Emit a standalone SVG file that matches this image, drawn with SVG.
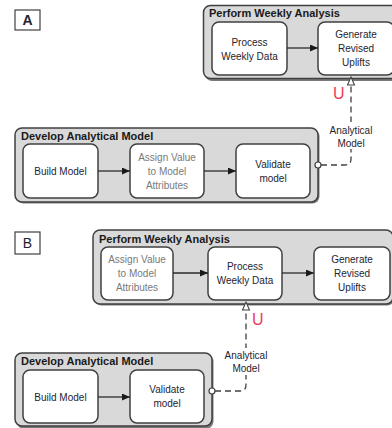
<svg xmlns="http://www.w3.org/2000/svg" width="392" height="428" viewBox="0 0 392 428">
  <defs>
    <style>
      text { font-family: "Liberation Sans", Arial, sans-serif; fill: #1e2430; }
      .tag { fill: #ffffff; stroke: #404040; stroke-width: 1.2; }
      .tagtxt { font-size: 14px; text-anchor: middle; }
      .shadow { fill: #7a7a7a; }
      .pool { fill: #d9d9d9; stroke: #404040; stroke-width: 1.5; }
      .title { font-size: 11px; font-weight: bold; fill: #1a1a1a; }
      .task { fill: #ffffff; stroke: #404040; stroke-width: 1.5; }
      .lbl { font-size: 10px; text-anchor: middle; }
      .dim { fill: #7a7a7a; }
      .flow { fill: none; stroke: #2a2a2a; stroke-width: 1.3; marker-end: url(#solid); }
      .data { fill: none; stroke: #404040; stroke-width: 1.3; stroke-dasharray: 6 4; marker-end: url(#open); }
      .port { fill: #ffffff; stroke: #404040; stroke-width: 1.2; }
      .mark { font-size: 16px; fill: #f03a5a; }
      .bg { fill: #ffffff; }
    </style>
    <marker id="solid" markerUnits="userSpaceOnUse" markerWidth="9" markerHeight="8" refX="8" refY="3.5" orient="auto">
      <path d="M0,0 L8,3.5 L0,7 z" fill="#1a1a1a" stroke="none"/>
    </marker>
    <marker id="open" markerUnits="userSpaceOnUse" markerWidth="12" markerHeight="10" refX="9" refY="4" orient="auto">
      <path d="M1,0.5 L9,4 L1,7.5 z" fill="#ffffff" stroke="#404040" stroke-width="1.1" stroke-dasharray="none"/>
    </marker>
  </defs>

  <!-- Variant A -->
  <g id="tag-a">
    <rect class="tag" x="15" y="10" width="25" height="20"/>
    <text class="tagtxt" x="27.5" y="25" font-weight="bold">A</text>
  </g>

  <g id="a-weekly">
    <rect class="shadow" x="205" y="7" width="200" height="74" rx="7"/>
    <rect class="pool" x="203.5" y="5.5" width="200" height="73" rx="7"/>
    <text class="title" x="209" y="17">Perform Weekly Analysis</text>
  </g>
  <g id="a-process">
    <rect class="task" x="212" y="22" width="75" height="53" rx="7"/>
    <text class="lbl" x="249.5" y="45.5">Process</text>
    <text class="lbl" x="249.5" y="59.5">Weekly Data</text>
  </g>
  <g id="a-generate">
    <rect class="task" x="318" y="22" width="76" height="53" rx="7"/>
    <text class="lbl" x="356" y="38">Generate</text>
    <text class="lbl" x="356" y="52">Revised</text>
    <text class="lbl" x="356" y="66">Uplifts</text>
  </g>

  <g id="a-develop">
    <rect class="shadow" x="16.5" y="129.5" width="303" height="74" rx="7"/>
    <rect class="pool" x="15" y="128" width="303" height="74" rx="7"/>
    <text class="title" x="21" y="140">Develop Analytical Model</text>
  </g>
  <g id="a-build">
    <rect class="task" x="23" y="144" width="75" height="54" rx="7"/>
    <text class="lbl" x="60.5" y="174.5">Build Model</text>
  </g>
  <g id="a-assign">
    <rect class="task" x="130" y="144" width="74" height="54" rx="7"/>
    <text class="lbl dim" x="167" y="161">Assign Value</text>
    <text class="lbl dim" x="167" y="175">to Model</text>
    <text class="lbl dim" x="167" y="188.5">Attributes</text>
  </g>
  <g id="a-validate">
    <rect class="task" x="236" y="144" width="74" height="54" rx="7"/>
    <text class="lbl" x="273" y="168">Validate</text>
    <text class="lbl" x="273" y="182">model</text>
  </g>

  <!-- Variant B -->
  <g id="tag-b">
    <rect class="tag" x="15" y="232" width="25" height="22"/>
    <text class="tagtxt" x="27.5" y="248">B</text>
  </g>

  <g id="b-weekly">
    <rect class="shadow" x="94.5" y="231.5" width="300" height="74" rx="7"/>
    <rect class="pool" x="93" y="230" width="300" height="74" rx="7"/>
    <text class="title" x="99" y="243">Perform Weekly Analysis</text>
  </g>
  <g id="b-assign">
    <rect class="task" x="101" y="247" width="72" height="53" rx="7"/>
    <text class="lbl dim" x="137" y="263">Assign Value</text>
    <text class="lbl dim" x="137" y="277">to Model</text>
    <text class="lbl dim" x="137" y="291">Attributes</text>
  </g>
  <g id="b-process">
    <rect class="task" x="208" y="247" width="74" height="53" rx="7"/>
    <text class="lbl" x="245" y="270">Process</text>
    <text class="lbl" x="245" y="284">Weekly Data</text>
  </g>
  <g id="b-generate">
    <rect class="task" x="314" y="247" width="76" height="53" rx="7"/>
    <text class="lbl" x="352" y="263">Generate</text>
    <text class="lbl" x="352" y="277">Revised</text>
    <text class="lbl" x="352" y="291">Uplifts</text>
  </g>

  <g id="b-develop">
    <rect class="shadow" x="16.5" y="354.5" width="197" height="74" rx="7"/>
    <rect class="pool" x="15" y="353" width="197" height="73" rx="7"/>
    <text class="title" x="21" y="365">Develop Analytical Model</text>
  </g>
  <g id="b-build">
    <rect class="task" x="23" y="370" width="75" height="53" rx="7"/>
    <text class="lbl" x="60.5" y="400.5">Build Model</text>
  </g>
  <g id="b-validate">
    <rect class="task" x="130" y="370" width="74" height="53" rx="7"/>
    <text class="lbl" x="167" y="393">Validate</text>
    <text class="lbl" x="167" y="407">model</text>
  </g>

  <!-- Connectors -->
  <g id="connectors">
    <path class="flow" d="M287,48 L318,48"/>
    <path class="flow" d="M98,171 L130,171"/>
    <path class="flow" d="M204,171 L236,171"/>
    <path class="data" d="M321,165 L345,165 Q351,165 351,159 L351,77"/>
    <circle class="port" cx="318" cy="165" r="3"/>
    <rect class="bg" x="327" y="122" width="48" height="27"/>
    <text class="lbl" x="351" y="133.5">Analytical</text>
    <text class="lbl" x="351" y="146.5">Model</text>
    <text class="mark" x="333" y="99">U</text>

    <path class="flow" d="M173,273 L208,273"/>
    <path class="flow" d="M282,273 L314,273"/>
    <path class="flow" d="M98,397 L130,397"/>
    <path class="data" d="M215,391 L240,391 Q246,391 246,385 L246,302"/>
    <circle class="port" cx="212" cy="391" r="3"/>
    <rect class="bg" x="222" y="348" width="48" height="27"/>
    <text class="lbl" x="246" y="359">Analytical</text>
    <text class="lbl" x="246" y="372">Model</text>
    <text class="mark" x="252" y="325">U</text>
  </g>
</svg>
